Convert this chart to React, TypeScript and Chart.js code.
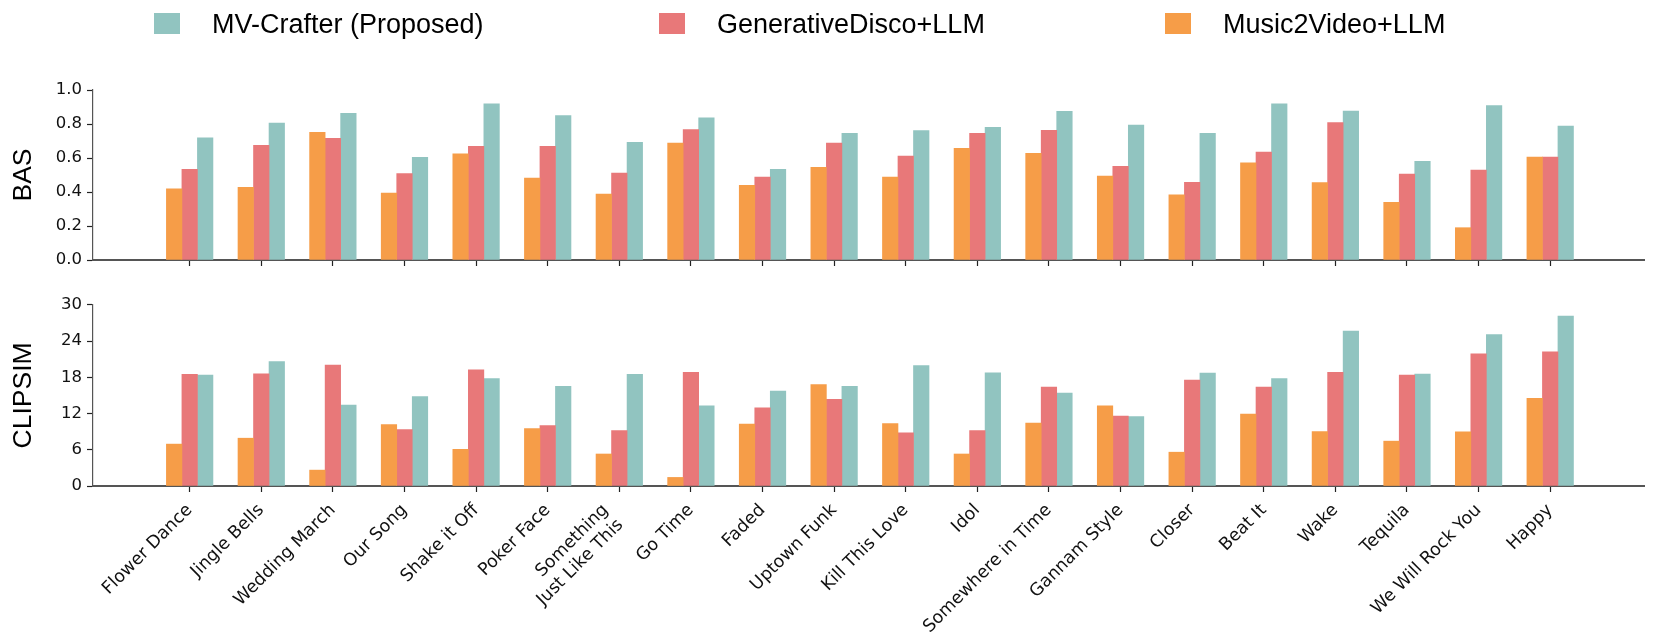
import React, { useEffect, useRef } from 'react';
import { Chart, registerables } from 'chart.js';

Chart.register(...registerables);

// ---------------- data ----------------
const CATEGORIES = [
  'Flower Dance', 'Jingle Bells', 'Wedding March', 'Our Song', 'Shake it Off',
  'Poker Face', 'Something\nJust Like This', 'Go Time', 'Faded', 'Uptown Funk',
  'Kill This Love', 'Idol', 'Somewhere in Time', 'Gannam Style', 'Closer',
  'Beat It', 'Wake', 'Tequila', 'We Will Rock You', 'Happy',
];

const SERIES_NAMES = ['Music2Video+LLM', 'GenerativeDisco+LLM', 'MV-Crafter (Proposed)'];
const LEGEND_ORDER = [2, 1, 0];

const BAS_MUSIC2VIDEO = [0.418, 0.427, 0.751, 0.394, 0.625, 0.482, 0.388, 0.688, 0.439, 0.545, 0.488, 0.657, 0.627, 0.494, 0.384, 0.571, 0.455, 0.339, 0.190, 0.606];
const BAS_GENDISCO = [0.533, 0.675, 0.716, 0.508, 0.669, 0.669, 0.512, 0.767, 0.488, 0.688, 0.612, 0.745, 0.763, 0.551, 0.457, 0.635, 0.808, 0.506, 0.529, 0.606];
const BAS_MVCRAFTER = [0.718, 0.806, 0.863, 0.604, 0.918, 0.849, 0.692, 0.837, 0.533, 0.745, 0.761, 0.780, 0.875, 0.794, 0.745, 0.918, 0.876, 0.580, 0.908, 0.788];

const CLIPSIM_MUSIC2VIDEO = [6.94, 7.92, 2.63, 10.16, 6.07, 9.5, 5.3, 1.42, 10.27, 16.78, 10.33, 5.3, 10.44, 13.28, 5.6, 11.91, 9.02, 7.43, 8.96, 14.54];
const CLIPSIM_GENDISCO = [18.5, 18.58, 20.05, 9.34, 19.23, 10.0, 9.18, 18.85, 12.95, 14.37, 8.8, 9.18, 16.39, 11.58, 17.54, 16.39, 18.85, 18.36, 21.9, 22.24];
const CLIPSIM_MVCRAFTER = [18.36, 20.6, 13.39, 14.8, 17.8, 16.5, 18.5, 13.28, 15.74, 16.5, 19.95, 18.74, 15.41, 11.48, 18.69, 17.8, 25.68, 18.52, 25.08, 28.14];

const BAS_TICKS = [0, 0.2, 0.4, 0.6, 0.8, 1.0];
const BAS_TICK_LABELS = ['0.0', '0.2', '0.4', '0.6', '0.8', '1.0'];
const CLIPSIM_TICKS = [0, 6, 12, 18, 24, 30];
const CLIPSIM_TICK_LABELS = ['0', '6', '12', '18', '24', '30'];

// ---------------- style / layout ----------------
const COLORS = ['rgb(246,157,72)', 'rgb(232,120,121)', 'rgb(145,196,192)'];
const W = 1661;
const TOP_H = 290;
const BOTTOM_H = 353;
const Y_AXIS_W = 93;
const PAD_RIGHT = 17;
const X_MIN = -1.35;
const X_MAX = 20.31;
const GROUP_FRACTION = 0.65;
const CATEGORY_PX = (W - Y_AXIS_W - PAD_RIGHT) / (X_MAX - X_MIN);
const BAR_THICKNESS = (CATEGORY_PX * GROUP_FRACTION) / SERIES_NAMES.length;
const LEGEND_X = [154, 659, 1165];
const MULTILINE_SHIFT = 0.19; // multi-line labels are right-aligned as a block, a bit to the left
const TICK_FONT = { family: '"DejaVu Sans", sans-serif', size: 16.5 };
const TITLE_FONT = { family: '"Liberation Sans", Arial, sans-serif', size: 26.5 };

const legendPlugin = {
  id: 'topLegend',
  afterDraw(chart: any) {
    const ctx = chart.ctx;
    ctx.save();
    LEGEND_ORDER.forEach((dsIndex, k) => {
      const ds = chart.data.datasets[dsIndex];
      const x = LEGEND_X[k];
      ctx.fillStyle = ds.backgroundColor;
      ctx.fillRect(x, 13, 26, 21);
      ctx.fillStyle = '#000';
      ctx.font = '27px "Liberation Sans", Arial, sans-serif';
      ctx.textBaseline = 'alphabetic';
      ctx.textAlign = 'left';
      ctx.fillText(ds.label, x + 58, 32.5);
    });
    ctx.restore();
  },
};

function buildDatasets(series: number[][]) {
  return series.map((vals, s) => ({
    label: SERIES_NAMES[s],
    data: vals.map((v, i) => ({ x: i, y: v })),
    backgroundColor: COLORS[s],
    borderWidth: 0,
    barThickness: BAR_THICKNESS,
  }));
}

function buildXTicks() {
  const ticks: any[] = [];
  CATEGORIES.forEach((lbl, i) => {
    if (lbl.includes('\n')) {
      ticks.push({ value: i - MULTILINE_SHIFT, catLabel: lbl.split('\n'), hideMark: true });
      ticks.push({ value: i, catLabel: '' });
    } else {
      ticks.push({ value: i, catLabel: lbl });
    }
  });
  return ticks;
}

function buildOptions(opts: {
  yTitle: string; yMax: number; yTicks: number[]; yLabels: string[];
  showX: boolean; padTop: number; xHeight: number;
}) {
  return {
    responsive: false,
    animation: false as const,
    events: [],
    layout: { padding: { top: opts.padTop, right: PAD_RIGHT, left: 0, bottom: 0 } },
    plugins: { legend: { display: false }, tooltip: { enabled: false } },
    scales: {
      x: {
        type: 'linear' as const,
        min: X_MIN,
        max: X_MAX,
        offset: false,
        grid: {
          display: true, offset: false, drawOnChartArea: false, drawTicks: true, tickLength: 6, tickWidth: 1.2,
          tickColor: (ctx: any) => (ctx.tick && ctx.tick.hideMark ? 'rgba(0,0,0,0)' : '#222'),
        },
        border: { display: true, color: '#555', width: 2 },
        afterBuildTicks: (scale: any) => {
          scale.ticks = buildXTicks();
        },
        afterFit: (scale: any) => { scale.height = opts.xHeight; },
        ticks: {
          autoSkip: false,
          minRotation: 45,
          maxRotation: 45,
          padding: 8,
          color: '#111',
          font: { family: '"DejaVu Sans", sans-serif', size: 17.5 },
          callback: (_value: any, index: number, ticks: any[]) => {
            if (!opts.showX) return '';
            const t = ticks[index];
            return t && t.catLabel !== undefined ? t.catLabel : '';
          },
        },
      },
      y: {
        min: 0,
        max: opts.yMax,
        grid: { display: true, drawOnChartArea: false, drawTicks: true, tickLength: 6, tickColor: '#222', tickWidth: 1.2 },
        border: { display: true, color: '#555', width: 1.2 },
        afterBuildTicks: (scale: any) => {
          scale.ticks = opts.yTicks.map((v) => ({ value: v }));
        },
        afterFit: (scale: any) => { scale.width = Y_AXIS_W; },
        ticks: {
          padding: 5,
          color: '#111',
          font: TICK_FONT,
          callback: (value: any) => {
            const idx = opts.yTicks.findIndex((t) => Math.abs(t - value) < 1e-9);
            return idx >= 0 ? opts.yLabels[idx] : '';
          },
        },
        title: {
          display: true,
          text: opts.yTitle,
          color: '#000',
          font: TITLE_FONT,
          padding: { top: 8, bottom: 0 },
        },
      },
    },
  };
}

export default function App() {
  const topRef = useRef<HTMLCanvasElement | null>(null);
  const bottomRef = useRef<HTMLCanvasElement | null>(null);

  useEffect(() => {
    const top = new Chart(topRef.current as HTMLCanvasElement, {
      type: 'bar',
      data: { datasets: buildDatasets([BAS_MUSIC2VIDEO, BAS_GENDISCO, BAS_MVCRAFTER]) as any },
      options: buildOptions({
        yTitle: 'BAS', yMax: 1.0, yTicks: BAS_TICKS, yLabels: BAS_TICK_LABELS,
        showX: false, padTop: 90, xHeight: 30,
      }) as any,
      plugins: [legendPlugin],
    });
    const bottom = new Chart(bottomRef.current as HTMLCanvasElement, {
      type: 'bar',
      data: { datasets: buildDatasets([CLIPSIM_MUSIC2VIDEO, CLIPSIM_GENDISCO, CLIPSIM_MVCRAFTER]) as any },
      options: buildOptions({
        yTitle: 'CLIPSIM', yMax: 30, yTicks: CLIPSIM_TICKS, yLabels: CLIPSIM_TICK_LABELS,
        showX: true, padTop: 13, xHeight: 157,
      }) as any,
    });
    return () => {
      top.destroy();
      bottom.destroy();
    };
  }, []);

  return (
    <div style={{ position: 'absolute', left: 0, top: 0, width: W, height: TOP_H + BOTTOM_H, background: '#fff' }}>
      <canvas ref={topRef} width={W} height={TOP_H} style={{ position: 'absolute', left: 0, top: 0, width: W, height: TOP_H }} />
      <canvas ref={bottomRef} width={W} height={BOTTOM_H} style={{ position: 'absolute', left: 0, top: TOP_H, width: W, height: BOTTOM_H }} />
    </div>
  );
}
